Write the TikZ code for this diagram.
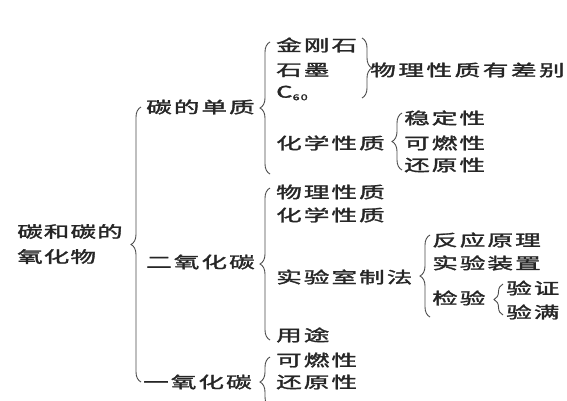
\documentclass[tikz,border=0pt]{standalone}
\usepackage{fontspec}
\usepackage{graphicx}
\usetikzlibrary{decorations.pathreplacing}
\newfontfamily\cjk[LetterSpace=8,FakeBold=1.5]{Noto Sans CJK SC}
\newfontfamily\cjkwide[LetterSpace=10,FakeBold=1.5]{Noto Sans CJK SC}
\newfontfamily\cjkroot[LetterSpace=4,FakeBold=1.5]{Noto Sans CJK SC}
\newcommand{\wide}[1]{\scalebox{1.6}[1]{#1}}
\begin{document}
\begin{tikzpicture}[x=1bp,y=-1bp,
  txt/.style={anchor=west,inner sep=0pt,text=black!85,
    font=\fontsize{16bp}{25bp}\selectfont\cjk},
  widetxt/.style={txt,font=\fontsize{16bp}{25bp}\selectfont\cjkwide},
  roottxt/.style={txt,align=left,font=\fontsize{16bp}{25bp}\selectfont\cjkroot},
  lbrace/.style={draw=black!70,line width=0.9bp,decorate,
    decoration={brace,amplitude=10bp}},
  sbrace/.style={lbrace,decoration={brace,amplitude=9bp}},
]
\useasboundingbox (0,0) rectangle (567,400);
\fill[white] (0,0) rectangle (567,400);

% root
\node[roottxt] (root) at (17,244) {\wide{碳和碳的}\\\wide{氧化物}};

% level 1
\node[txt] (dz) at (146,107) {\wide{碳的单质}};
\node[txt] (co2) at (146,262) {\wide{二氧化碳}};
\node[txt] (co) at (143,382) {\wide{一氧化碳}};

% carbon elements
\node[txt] (jgs) at (276,45) {\wide{金刚石}};
\node[txt] (sm) at (276,70) {\wide{石墨}};
\node[txt] (c60) at (276,93) {\wide{C\raisebox{-2.5bp}{\fontsize{8bp}{8bp}\selectfont 60}}};
\node[widetxt] (wlcb) at (370,70) {\wide{物理性质有差别}};
\node[txt] (hxxz1) at (276,143) {\wide{化学性质}};
\node[txt] (wdx) at (404,118) {\wide{稳定性}};
\node[txt] (krx1) at (404,143) {\wide{可燃性}};
\node[txt] (hyx1) at (404,165) {\wide{还原性}};

% CO2
\node[txt] (wlxz) at (276,192) {\wide{物理性质}};
\node[txt] (hxxz2) at (276,215) {\wide{化学性质}};
\node[txt] (syszf) at (276,277) {\wide{实验室制法}};
\node[txt] (fyyl) at (432,240) {\wide{反应原理}};
\node[txt] (syzz) at (432,263) {\wide{实验装置}};
\node[txt] (jy) at (432,298) {\wide{检验}};
\node[txt] (yz) at (506,288) {\wide{验证}};
\node[txt] (ym) at (506,312) {\wide{验满}};
\node[txt] (yt) at (276,335) {\wide{用途}};

% CO
\node[txt] (krx2) at (276,360) {\wide{可燃性}};
\node[txt] (hyx2) at (276,382) {\wide{还原性}};

% braces
\draw[lbrace] (141,382) -- (141,107);
\draw[lbrace] (270,174) -- (270,42);
\draw[lbrace] (362,38) -- (362,98);
\draw[lbrace] (402,170) -- (402,113);
\draw[lbrace] (270,340) -- (270,188);
\draw[lbrace] (430,317) -- (430,235);
\draw[sbrace] (503,315) -- (503,284);
\draw[lbrace] (270,407) -- (270,357);
\end{tikzpicture}
\end{document}
